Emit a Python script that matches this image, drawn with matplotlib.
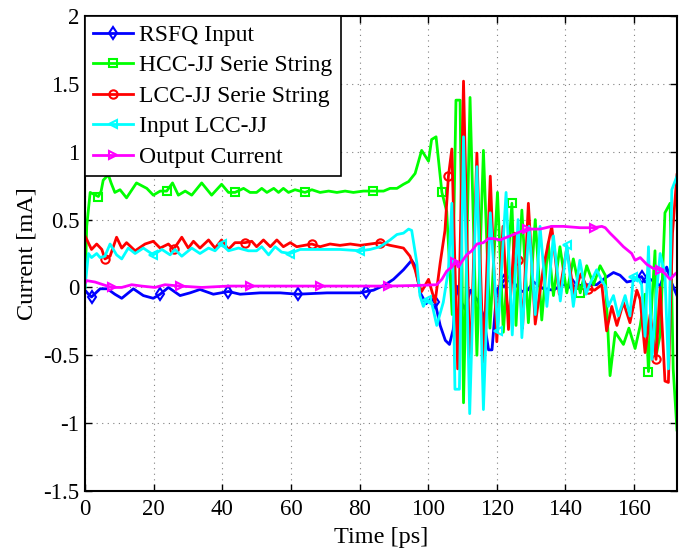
#!/usr/bin/env python3
"""
Currents of the RSFQ / JJ string circuit versus time (SPICE-like transient)
"""

import numpy as np
import matplotlib
matplotlib.use('Agg')
import matplotlib.pyplot as plt

# ---- data (time in ps, current in mA) ----
t_rsfq = [0, 1, 1.9, 4.4, 6.5, 8.7, 10.7, 14.1, 17, 19.9, 21.9, 24.3, 27.7, 30.6, 33.5,
          37.4, 41.8, 45.2, 51, 56.9, 62, 70.5, 80.2, 82, 84.1, 87.5, 89.9, 92.8, 95.2,
          96.2, 97.7, 99.4, 100.5, 102, 103.5, 105, 106.2, 107.3, 108.3, 109.5, 110.7,
          112.3, 114.5, 116, 117.6, 118.6, 120, 122, 123.4, 125.5, 127.3, 129, 130.7,
          133.6, 136.5, 139, 142.3, 146.2, 149.1, 151.6, 154, 155.9, 157.9, 159.8, 161.3,
          162.2, 163.2, 164.7, 166.1, 167.6, 169.5, 171, 172.5]
i_rsfq = [-0.02, -0.05, -0.07, -0.01, -0.01, -0.05, -0.08, -0.01, -0.06, -0.08, -0.05,
          0.0, -0.06, -0.04, -0.015, -0.05, -0.03, -0.05, -0.04, -0.04, -0.05, -0.04,
          -0.04, -0.03, -0.02, 0.02, 0.06, 0.13, 0.20, 0.16, -0.04, -0.12, -0.09, -0.11,
          -0.28, -0.39, -0.42, -0.31, 0.01, -0.10, -0.16, -0.02, -0.10, -0.20, -0.46,
          -0.46, -0.02, 0.05, 0.08, 0.02, -0.03, -0.02, 0.04, -0.01, -0.02, 0.02, 0.01,
          0.02, 0.02, 0.07, 0.11, 0.09, 0.04, 0.05, 0.07, 0.08, 0.04, 0.06, 0.04, 0.01,
          0.15, 0.03, -0.06]

t_hcc = [0, 0.5, 1.5, 3.9, 4.7, 5.3, 6.8, 7.6, 8.7, 10.2, 12.1, 15, 18, 19.9, 21.9,
         23.8, 25.5, 27.2, 29.2, 31.1, 34, 36.9, 39.8, 41.8, 43.7, 46.2, 48.1, 50, 51.5,
         53, 55, 56.4, 57.8, 59.3, 61.2, 64.1, 66.1, 68.5, 71, 73.4, 75.8, 78.2, 81.1,
         84, 87, 88.9, 90.9, 92.8, 94.3, 96.2, 98.1, 100.1, 101, 102.3, 104, 105.4, 107,
         108.1, 109.3, 110.3, 112.2, 114.2, 116.1, 118, 120.2, 121.9, 124.4, 125.6,
         127.3, 129.2, 131.2, 133.1, 135, 136.5, 138.4, 140.4, 142.3, 144.3, 146.2,
         148.2, 150.1, 151.6, 153, 154.5, 156.9, 158.5, 160.3, 161.8, 163.2, 164.2,
         165.2, 166.1, 166.6, 167.6, 169, 170.5, 171.4, 172.5]
i_hcc = [0.0, 0.45, 0.70, 0.67, 0.71, 0.79, 0.83, 0.77, 0.70, 0.72, 0.66, 0.77, 0.73,
         0.68, 0.71, 0.71, 0.77, 0.68, 0.71, 0.68, 0.77, 0.68, 0.76, 0.70, 0.70, 0.73,
         0.70, 0.70, 0.73, 0.70, 0.73, 0.70, 0.73, 0.70, 0.72, 0.70, 0.72, 0.70, 0.71,
         0.70, 0.71, 0.70, 0.71, 0.71, 0.71, 0.73, 0.73, 0.76, 0.78, 0.84, 1.01, 0.93,
         1.09, 1.11, 0.70, 0.56, -0.20, 1.38, 1.38, -0.85, 1.40, -0.50, 1.01, -0.30,
         0.70, -0.33, 0.62, -0.28, 0.57, -0.26, 0.50, -0.24, 0.33, -0.06, 0.30, -0.04,
         0.21, -0.04, 0.16, 0.02, 0.16, 0.09, -0.65, -0.33, -0.42, -0.30, -0.45, -0.28,
         -0.05, -0.62, -0.10, 0.27, -0.48, -0.35, 0.55, 0.62, -0.60, -1.05]

t_lcc = [0, 1.9, 3.4, 4.9, 5.8, 7.3, 9.2, 10.7, 12.1, 14.6, 17.5, 19.9, 21.9, 24.3, 25.8,
         28.2, 30.1, 31.6, 33.5, 36, 37.9, 39.8, 41.8, 43.7, 46.6, 48.6, 50, 52, 54,
         55.9, 57.8, 59.8, 61.7, 66.1, 68.5, 71.4, 74.3, 77.3, 80.2, 83.1, 86, 88.9,
         90.9, 92.8, 94.7, 96.2, 97.2, 98.1, 100.1, 102, 103.5, 104.9, 105.9, 106.9,
         108.6, 110.3, 112.2, 114.2, 116.1, 118.1, 120, 121.8, 123.4, 125.2, 126.3,
         127.5, 129.2, 131.2, 133.6, 136, 138.2, 140.4, 142.5, 144.5, 146.5, 148.5,
         150.6, 152, 153.5, 155, 156.9, 158.8, 160.8, 161.8, 163.2, 164.7, 166.4, 167.6,
         169, 170, 171.2, 172.5]
i_lcc = [0.38, 0.28, 0.32, 0.28, 0.21, 0.23, 0.37, 0.29, 0.33, 0.27, 0.32, 0.34, 0.29,
         0.32, 0.28, 0.37, 0.29, 0.34, 0.29, 0.35, 0.29, 0.35, 0.28, 0.33, 0.33, 0.34,
         0.30, 0.35, 0.30, 0.35, 0.30, 0.33, 0.30, 0.32, 0.30, 0.32, 0.31, 0.32, 0.31,
         0.32, 0.33, 0.31, 0.30, 0.29, 0.23, 0.13, 0.03, -0.03, 0.06, -0.11, 0.18, 0.42,
         0.82, 1.02, -0.60, 1.52, -0.65, 0.99, -0.55, 0.82, -0.40, 0.45, -0.31, 0.40,
         0.20, -0.30, 0.62, -0.27, 0.15, 0.45, -0.05, 0.29, -0.05, 0.10, -0.01, -0.02,
         0.02, -0.32, -0.14, -0.28, -0.11, -0.26, -0.02, -0.09, -0.48, -0.20, -0.53,
         0.00, -0.69, -0.70, 0.40, 0.83]

t_in = [0, 1, 1.9, 3.4, 4.4, 5.8, 7.3, 9.2, 10.7, 12.6, 14.6, 17, 19.9, 22.4, 24.8, 26.2,
        28.2, 31.1, 33.5, 36, 37.9, 39.8, 41.8, 44.7, 47.6, 50, 51.5, 53.5, 55.4, 57.3,
        59.8, 62.7, 66.6, 70.5, 74.3, 80.2, 83.1, 86, 88.9, 90.9, 92.8, 94.3, 95.2, 96.7,
        97.6, 98.6, 99.6, 101, 102.5, 104.4, 105.9, 106.9, 107.8, 109.1, 110.3, 112.1,
        114.2, 116.1, 118.1, 120.3, 122.7, 124.5, 126.2, 127.3, 129.4, 131.2, 132.6,
        134.6, 136.5, 138.5, 140.4, 142.3, 144.2, 146, 147.2, 149.1, 150.6, 151.6, 152.5,
        154, 155.4, 157.4, 158.8, 159.8, 161.3, 162.2, 163.2, 164.2, 165.2, 166.6, 167.6,
        169, 170, 171, 172.5]
i_in = [0.0, 0.25, 0.22, 0.25, 0.22, 0.23, 0.32, 0.24, 0.21, 0.29, 0.25, 0.29, 0.24,
        0.28, 0.24, 0.28, 0.23, 0.29, 0.25, 0.29, 0.27, 0.32, 0.27, 0.29, 0.27, 0.27,
        0.30, 0.24, 0.30, 0.26, 0.25, 0.28, 0.28, 0.28, 0.28, 0.27, 0.28, 0.30, 0.35,
        0.39, 0.40, 0.43, 0.42, 0.18, -0.06, -0.14, -0.09, -0.11, -0.28, -0.11, 0.13,
        0.62, -0.75, -0.75, 1.11, -0.93, 0.89, -0.90, 0.55, -0.32, 0.70, -0.35, 0.50,
        -0.37, 0.45, -0.20, 0.45, -0.14, 0.38, -0.10, 0.31, -0.14, 0.20, -0.05, 0.03,
        0.13, 0.05, 0.01, -0.14, -0.06, -0.21, -0.06, -0.21, 0.08, 0.06, 0.02, -0.36,
        0.30, -0.53, -0.02, 0.25, 0.10, -0.60, 0.72, 0.82]

t_out = [0, 0.5, 2.9, 5.3, 7.8, 10.7, 13.6, 16.5, 20.4, 23.3, 27.7, 34, 41.8, 48.1, 60,
         68.5, 80, 88.4, 97.7, 102.5, 104, 105.4, 106.9, 107.8, 108.8, 109.8, 111.2,
         112.7, 114.2, 116.1, 117.6, 119.1, 121, 122.9, 124.9, 126.8, 128.8, 131.2,
         132.6, 136, 139.4, 144.3, 148.2, 150.6, 151.6, 153, 155, 156.9, 159.3, 160.3,
         161.8, 163.7, 165.6, 167.6, 169.1, 170.5, 172, 172.5]
i_out = [0.03, 0.05, 0.04, 0.02, 0.00, 0.00, 0.02, 0.01, 0.00, 0.02, 0.01, 0.00, 0.01,
         0.01, 0.01, 0.01, 0.01, 0.01, 0.015, 0.02, 0.06, 0.12, 0.15, 0.19, 0.15, 0.19,
         0.24, 0.27, 0.32, 0.33, 0.36, 0.36, 0.35, 0.37, 0.39, 0.41, 0.43, 0.43, 0.43,
         0.45, 0.45, 0.44, 0.44, 0.45, 0.44, 0.40, 0.35, 0.30, 0.25, 0.20, 0.22, 0.17,
         0.14, 0.13, 0.10, 0.06, 0.10, 0.11]

# marker times (every 20 ps, shifted per trace like MATLAB output)
mk_rsfq = [2, 22, 42, 62, 82, 102, 122, 142, 162]
mk_hcc = [4, 24, 44, 64, 84, 104, 124, 144, 164]
mk_lcc = [6, 26, 46, 66, 86, 106, 126, 146, 166]
mk_in = [20, 40, 60, 80, 100, 120, 140, 160]
mk_out = [8, 28, 48, 68, 88, 108, 128, 148, 168]


def nearest_idx(t, marks):
    t = np.asarray(t)
    return [int(np.argmin(np.abs(t - m))) for m in marks]


def main():
    plt.rcParams['font.family'] = ['Liberation Serif', 'DejaVu Serif']
    plt.rcParams['axes.unicode_minus'] = False

    fig = plt.figure(figsize=(6.79, 5.52), dpi=100)
    ax = fig.add_axes([0.1252, 0.1105, 0.997 - 0.1252, 0.971 - 0.1105])

    traces = [
        (t_rsfq, i_rsfq, mk_rsfq, (0, 0, 1), 'd', 'RSFQ Input'),
        (t_hcc, i_hcc, mk_hcc, (0, 1, 0), 's', 'HCC-JJ Serie String'),
        (t_lcc, i_lcc, mk_lcc, (1, 0, 0), 'o', 'LCC-JJ Serie String'),
        (t_in, i_in, mk_in, (0, 1, 1), '<', 'Input LCC-JJ'),
        (t_out, i_out, mk_out, (1, 0, 1), '>', 'Output Current'),
    ]
    for t, i, mk, col, m, lab in traces:
        assert len(t) == len(i), lab
        ax.plot(t, i, color=col, lw=2, marker=m, markevery=nearest_idx(t, mk),
                ms=6, mfc='none', mec=col, mew=1.5, label=lab)

    ax.set_xlim(0, 172.5)
    ax.set_ylim(-1.5, 2)
    ax.set_xticks(np.arange(0, 161, 20))
    ax.set_yticks(np.arange(-1.5, 2.01, 0.5))
    ax.set_yticklabels(['-1.5', '-1', '-0.5', '0', '0.5', '1', '1.5', '2'])
    ax.grid(True, color='#808080', linestyle=(0, (1, 4)), linewidth=0.8)
    ax.tick_params(direction='in', top=True, right=True, labelsize=16.5, length=5,
                   width=1)
    ax.tick_params(axis='x', pad=6)
    ax.tick_params(axis='y', pad=4)
    for s in ax.spines.values():
        s.set_linewidth(1.5)

    ax.set_xlabel('Time [ps]', fontsize=17.5, labelpad=5)
    ax.set_ylabel('Current [mA]', fontsize=17.5, labelpad=4)

    leg = ax.legend(loc='upper left', fontsize=17, fancybox=False, framealpha=1,
                    edgecolor='black', borderaxespad=0, handlelength=1.7,
                    borderpad=0.35, labelspacing=0.38, handletextpad=0.25)
    leg.get_frame().set_linewidth(1.2)

    fig.savefig('out.png', dpi=100)
    plt.close(fig)


if __name__ == '__main__':
    main()
